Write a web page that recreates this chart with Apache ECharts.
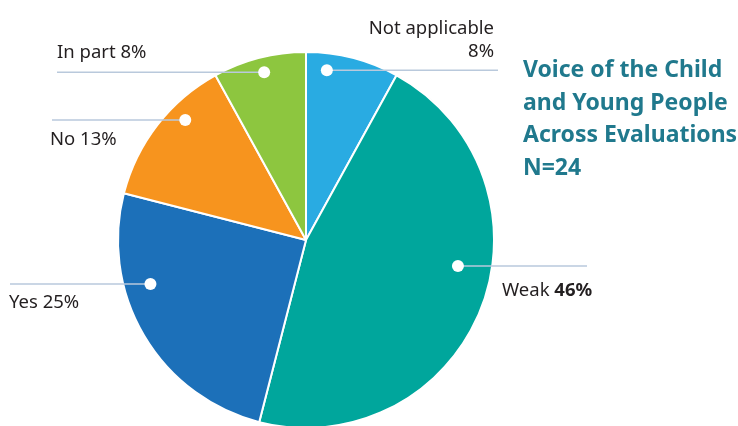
<!DOCTYPE html>
<html>
<head>
<meta charset="utf-8">
<script src="https://cdn.jsdelivr.net/npm/echarts@6/dist/echarts.min.js"></script>
<style>
  html, body { margin: 0; padding: 0; background: #ffffff; }
  #chart { width: 738px; height: 426px; }
</style>
</head>
<body>
<div id="chart"></div>
<script>
// Share of evaluations per rating (%), clockwise from 12 o'clock; N = 24
const categories = ['Not applicable', 'Weak', 'Yes', 'No', 'In part'];
const percents = [8, 46, 25, 13, 8];
const colors = ['#29abe2', '#00a69c', '#1c70b9', '#f7941e', '#8dc63f'];
const titleLines = ['Voice of the Child', 'and Young People', 'Across Evaluations', 'N=24'];

// Pie geometry
const CX = 306, CY = 240, R = 188;

// Label anchors: dot angle (deg, clockwise from top) and radius fraction,
// where the leader line ends, and where the text sits relative to the line.
const anchors = [
  { angle: 7.0,   rf: 0.91,  lineEnd: 498, textX: 494, dy: -7,  align: 'right', vAlign: 'bottom' },
  { angle: 99.7,  rf: 0.82,  lineEnd: 587, textX: 502, dy: 25,  align: 'left',  vAlign: 'middle' },
  { angle: 254.2, rf: 0.86,  lineEnd: 10,  textX: 9,   dy: 19,  align: 'left',  vAlign: 'middle' },
  { angle: 314.8, rf: 0.905, lineEnd: 52,  textX: 50,  dy: 20,  align: 'left',  vAlign: 'middle' },
  { angle: 346.0, rf: 0.92,  lineEnd: 57,  textX: 57,  dy: -19, align: 'left',  vAlign: 'middle' }
];

function anchorPoint(i) {
  const a = anchors[i].angle * Math.PI / 180;
  const r = R * anchors[i].rf;
  return [CX + r * Math.sin(a), CY - r * Math.cos(a)];
}

const FONT = '"Noto Sans"';

const chart = echarts.init(document.getElementById('chart'), null, { renderer: 'canvas' });

// Leader lines and anchor dots drawn above the slices
const leaders = [];
anchors.forEach((a, i) => {
  const p = anchorPoint(i);
  leaders.push({
    type: 'line',
    shape: { x1: p[0], y1: p[1], x2: a.lineEnd, y2: p[1] },
    style: { stroke: '#b9c9dc', lineWidth: 1.5 },
    z: 99
  });
  leaders.push({
    type: 'circle',
    shape: { cx: p[0], cy: p[1], r: 6 },
    style: { fill: '#ffffff' },
    z: 100
  });
});

chart.setOption({
  backgroundColor: '#ffffff',
  animation: false,
  graphic: [
    ...leaders,
    {
      type: 'text',
      left: 523,
      top: 54,
      z: 100,
      style: {
        text: titleLines.join('\n'),
        font: 'bold 23px ' + FONT,
        fill: '#20798d',
        lineHeight: 32.7
      }
    }
  ],
  series: [{
    type: 'pie',
    center: [CX, CY],
    radius: [0, R],
    startAngle: 90,
    clockwise: true,
    data: categories.map((name, i) => ({
      name: name,
      value: percents[i],
      itemStyle: { color: colors[i] }
    })),
    itemStyle: { borderColor: '#ffffff', borderWidth: 2 },
    label: {
      show: true,
      position: 'outside',
      fontFamily: FONT,
      fontSize: 18.5,
      color: '#231f20',
      lineHeight: 23,
      formatter: function (p) {
        const pct = p.value + '%';
        if (p.dataIndex === 0) return p.name + '\n' + pct;
        if (p.dataIndex === 1) return p.name + ' {b|' + pct + '}';
        return p.name + ' ' + pct;
      },
      rich: {
        b: { fontFamily: FONT, fontSize: 18.5, fontWeight: 'bold', color: '#231f20' }
      }
    },
    labelLine: { show: false },
    labelLayout: function (params) {
      const i = params.dataIndex;
      const a = anchors[i];
      const p = anchorPoint(i);
      return {
        x: a.textX,
        y: p[1] + a.dy,
        align: a.align,
        verticalAlign: a.vAlign
      };
    },
    emphasis: { disabled: true }
  }]
});
</script>
</body>
</html>
